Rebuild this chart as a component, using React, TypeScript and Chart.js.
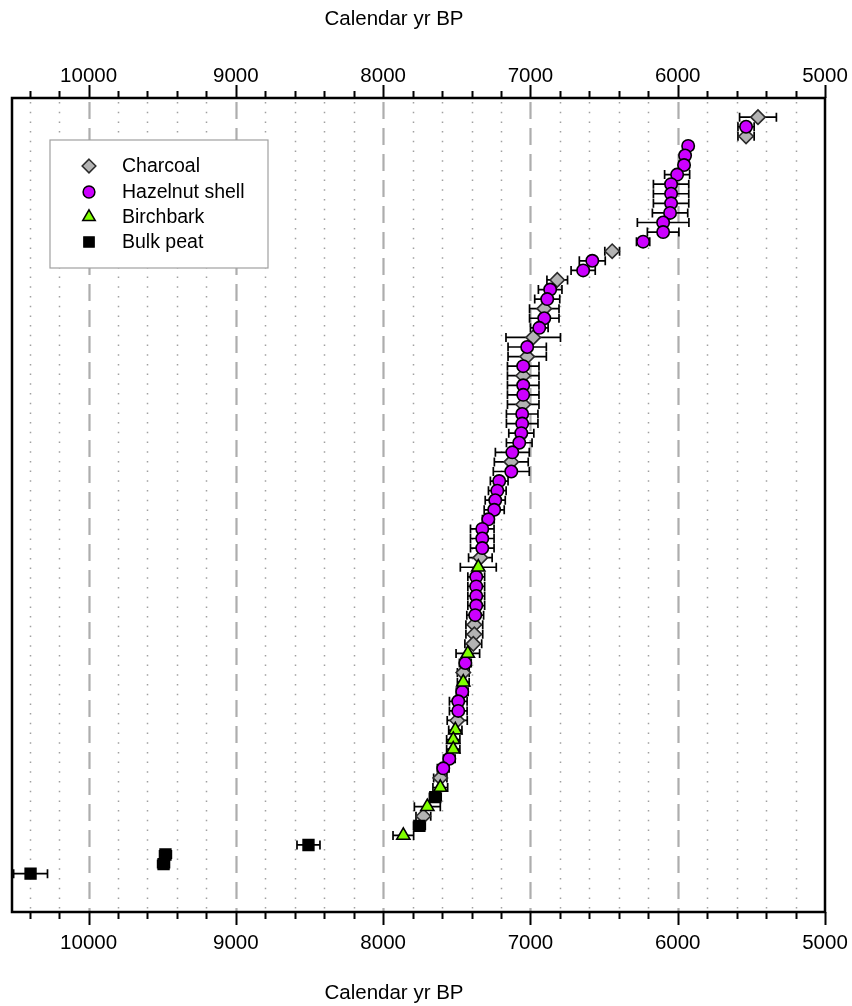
import React, { useEffect, useRef } from 'react';
import { Chart, registerables } from 'chart.js';

Chart.register(...registerables);

// ---- data (top to bottom) ----
const materialNames = ['Charcoal', 'Hazelnut shell', 'Birchbark', 'Bulk peat'];
const materialCodes = ['C', 'H', 'B', 'P'];

const sampleMaterial = [
  'C', 'H', 'C', 'H', 'H', 'H', 'H', 'H', 'H', 'H',
  'H', 'H', 'H', 'H', 'C', 'H', 'H', 'C', 'H', 'H',
  'C', 'H', 'H', 'C', 'H', 'C', 'H', 'C', 'H', 'H',
  'C', 'H', 'H', 'H', 'H', 'H', 'C', 'H', 'H', 'H',
  'H', 'H', 'H', 'H', 'H', 'H', 'C', 'B', 'H', 'H',
  'H', 'H', 'H', 'C', 'C', 'C', 'B', 'H', 'C', 'B',
  'H', 'H', 'H', 'C', 'B', 'B', 'B', 'H', 'H', 'C',
  'B', 'P', 'B', 'C', 'P', 'B', 'P', 'P', 'P', 'P',
];

const sampleAge = [
  5455, 5536, 5536, 5929, 5950, 5957, 6004, 6045, 6045, 6045,
  6052, 6099, 6099, 6235, 6445, 6580, 6642, 6818, 6866, 6886,
  6906, 6906, 6940, 6981, 7022, 7022, 7049, 7049, 7049, 7049,
  7049, 7056, 7056, 7062, 7076, 7123, 7130, 7130, 7212, 7225,
  7239, 7246, 7286, 7327, 7327, 7327, 7340, 7354, 7368, 7368,
  7368, 7368, 7375, 7381, 7381, 7388, 7425, 7442, 7456, 7456,
  7463, 7490, 7490, 7497, 7510, 7524, 7524, 7551, 7592, 7612,
  7612, 7646, 7700, 7727, 7754, 7863, 8507, 9478, 9491, 10394,
];

const sampleError = [
  125, 55, 55, 30, 30, 35, 85, 120, 120, 120,
  120, 175, 107, 45, 50, 88, 82, 70, 80, 85,
  100, 100, 60, 185, 130, 130, 107, 107, 107, 107,
  107, 107, 107, 85, 87, 115, 115, 122, 60, 60,
  68, 68, 40, 80, 80, 80, 80, 122, 57, 57,
  57, 57, 57, 57, 57, 57, 80, 40, 40, 40,
  40, 60, 60, 68, 45, 45, 45, 40, 40, 45,
  50, 40, 88, 50, 40, 70, 78, 40, 40, 115,
];

const tickLabels = [10000, 9000, 8000, 7000, 6000, 5000];
const axisMin = 5000;
const axisMax = 10520;
const minorStep = 200;
const axisTitle = 'Calendar yr BP';

// ---- styles ----
const styles: Record<string, any> = {
  C: { pointStyle: 'rectRot', radius: 7.2, bg: '#b3b3b3', border: '#2a2a2a' },
  H: { pointStyle: 'circle', radius: 6.2, bg: '#cc00ff', border: '#000000' },
  B: { pointStyle: 'triangle', radius: 7.6, bg: '#80ff00', border: '#000000' },
  P: { pointStyle: 'rect', radius: 7.6, bg: '#000000', border: '#000000' },
};

const FONT = "'Liberation Sans', Arial, sans-serif";
const AXIS_FONT_SIZE = 20.5;

function drawMarker(ctx: CanvasRenderingContext2D, style: string, r: number, x: number, y: number) {
  ctx.beginPath();
  if (style === 'circle') {
    ctx.arc(x, y, r, 0, Math.PI * 2);
  } else if (style === 'rectRot') {
    ctx.moveTo(x, y - r);
    ctx.lineTo(x + r, y);
    ctx.lineTo(x, y + r);
    ctx.lineTo(x - r, y);
    ctx.closePath();
  } else if (style === 'triangle') {
    ctx.moveTo(x, y - r);
    ctx.lineTo(x + r * Math.cos(Math.PI / 6), y + r / 2);
    ctx.lineTo(x - r * Math.cos(Math.PI / 6), y + r / 2);
    ctx.closePath();
  } else {
    const s = r * Math.SQRT1_2;
    ctx.rect(x - s, y - s, 2 * s, 2 * s);
  }
  ctx.fill();
  ctx.stroke();
}

const decorPlugin = {
  id: 'decor',
  beforeDatasetsDraw(chart: any) {
    const { ctx, chartArea } = chart;
    const xs = chart.scales.x;
    const ys = chart.scales.y;
    ctx.save();
    ctx.beginPath();
    ctx.rect(chartArea.left, chartArea.top, chartArea.right - chartArea.left, chartArea.bottom - chartArea.top);
    ctx.clip();
    // grid
    for (let v = axisMin; v <= axisMax; v += minorStep) {
      const x = Math.round(xs.getPixelForValue(v)) + 0.5;
      ctx.beginPath();
      if (v % 1000 === 0) {
        ctx.strokeStyle = '#adadad';
        ctx.lineWidth = 2.2;
        ctx.setLineDash([17, 9]);
      } else {
        ctx.strokeStyle = '#a0a0a0';
        ctx.lineWidth = 1.5;
        ctx.setLineDash([1.5, 8.2]);
      }
      ctx.moveTo(x, chartArea.top + 4);
      ctx.lineTo(x, chartArea.bottom);
      ctx.stroke();
    }
    ctx.setLineDash([]);
    // error bars
    ctx.strokeStyle = '#000';
    ctx.lineWidth = 1.7;
    for (let i = 0; i < sampleAge.length; i++) {
      const y = ys.getPixelForValue(i + 1);
      const x1 = xs.getPixelForValue(sampleAge[i] - sampleError[i]);
      const x2 = xs.getPixelForValue(sampleAge[i] + sampleError[i]);
      ctx.beginPath();
      ctx.moveTo(x1, y);
      ctx.lineTo(x2, y);
      ctx.moveTo(x1, y - 4.5);
      ctx.lineTo(x1, y + 4.5);
      ctx.moveTo(x2, y - 4.5);
      ctx.lineTo(x2, y + 4.5);
      ctx.stroke();
    }
    ctx.restore();
  },
  afterDraw(chart: any) {
    const { ctx, chartArea } = chart;
    const xs = chart.scales.x;
    ctx.save();
    // tick marks
    ctx.strokeStyle = '#000';
    ctx.lineWidth = 2;
    for (let v = axisMin; v <= axisMax; v += minorStep) {
      const x = Math.round(xs.getPixelForValue(v)) + 0.5;
      const len = v % 1000 === 0 ? 13 : 7;
      ctx.beginPath();
      ctx.moveTo(x, chartArea.top);
      ctx.lineTo(x, chartArea.top - len);
      ctx.moveTo(x, chartArea.bottom);
      ctx.lineTo(x, chartArea.bottom + len);
      ctx.stroke();
    }
    // frame
    ctx.lineWidth = 2.5;
    ctx.strokeRect(chartArea.left, chartArea.top, chartArea.right - chartArea.left, chartArea.bottom - chartArea.top);

    // axis titles
    ctx.fillStyle = '#000';
    ctx.font = `${AXIS_FONT_SIZE}px ${FONT}`;
    ctx.textAlign = 'center';
    ctx.textBaseline = 'middle';
    ctx.fillText(axisTitle, 394, 19);
    ctx.fillText(axisTitle, 394, 993);

    // legend
    const lx = 50, ly = 140, lw = 218, lh = 128;
    ctx.fillStyle = '#ffffff';
    ctx.fillRect(lx, ly, lw, lh);
    ctx.strokeStyle = '#a0a0a0';
    ctx.lineWidth = 1.2;
    ctx.strokeRect(lx, ly, lw, lh);
    const rowsY = [166, 192, 217, 242];
    ctx.font = `19.5px ${FONT}`;
    ctx.textBaseline = 'middle';
    ctx.textAlign = 'left';
    materialCodes.forEach((code, k) => {
      const s = styles[code];
      ctx.fillStyle = s.bg;
      ctx.strokeStyle = s.border;
      ctx.lineWidth = 1.5;
      drawMarker(ctx, s.pointStyle, s.radius * 0.95, 89, rowsY[k]);
      ctx.fillStyle = '#000';
      ctx.fillText(materialNames[k], 122, rowsY[k] + 1);
    });
    ctx.restore();
  },
};

function makeAxis(position: 'top' | 'bottom') {
  return {
    type: 'linear',
    position,
    reverse: true,
    min: axisMin,
    max: axisMax,
    grid: { display: false, drawTicks: false },
    border: { display: false },
    afterBuildTicks: (scale: any) => {
      scale.ticks = tickLabels.map((v) => ({ value: v }));
    },
    ticks: {
      autoSkip: false,
      maxRotation: 0,
      minRotation: 0,
      padding: position === 'top' ? 9 : 19,
      color: '#000',
      font: { family: FONT, size: AXIS_FONT_SIZE },
      callback: (v: number) => String(v),
    },
    title: { display: false },
    afterFit: (scale: any) => {
      scale.height = position === 'top' ? 98 : 94;
      scale.paddingLeft = 0;
      scale.paddingRight = 0;
    },
  };
}

export default function App() {
  const ref = useRef<HTMLCanvasElement | null>(null);
  useEffect(() => {
    if (!ref.current) return;
    const datasets = materialCodes.map((code, k) => {
      const s = styles[code];
      const pts: { x: number; y: number }[] = [];
      sampleMaterial.forEach((m, i) => {
        if (m === code) pts.push({ x: sampleAge[i], y: i + 1 });
      });
      return {
        label: materialNames[k],
        data: pts,
        xAxisID: 'x',
        yAxisID: 'y',
        showLine: false,
        pointStyle: s.pointStyle,
        pointRadius: s.radius,
        pointBackgroundColor: s.bg,
        pointBorderColor: s.border,
        pointBorderWidth: 1.6,
        order: 3 - k,
      };
    });
    const chart = new Chart(ref.current, {
      type: 'scatter',
      data: { datasets },
      options: {
        animation: false,
        responsive: false,
        devicePixelRatio: 1,
        layout: { padding: { left: 12, right: 27, top: 0, bottom: 0 } },
        plugins: { legend: { display: false }, tooltip: { enabled: false } },
        scales: {
          x: makeAxis('bottom') as any,
          x2: makeAxis('top') as any,
          y: { type: 'linear', reverse: true, min: -1, max: 84, display: false },
        },
      },
      plugins: [decorPlugin],
    });
    return () => chart.destroy();
  }, []);
  return (
    <div style={{ position: 'absolute', left: 0, top: 0, width: 852, height: 1006, background: '#fff' }}>
      <canvas ref={ref} width={852} height={1006} style={{ display: 'block' }} />
    </div>
  );
}
